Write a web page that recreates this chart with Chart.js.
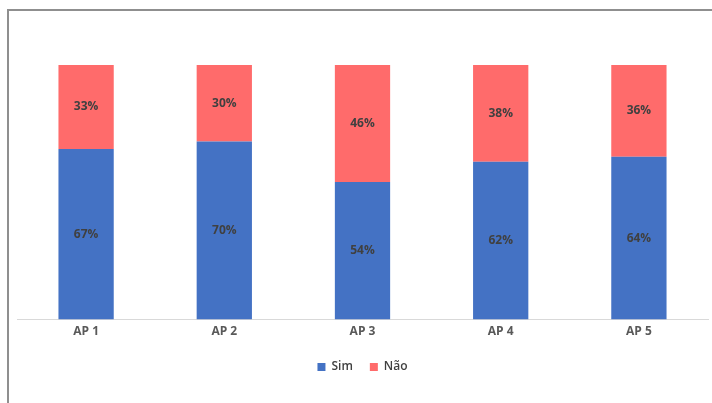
<!DOCTYPE html>
<html>
<head>
<meta charset="utf-8">
<script src="https://cdn.jsdelivr.net/npm/chart.js@4"></script>
<style>
  html, body { margin: 0; padding: 0; background: #fff; }
  #wrap { position: relative; width: 712px; height: 403px; overflow: hidden; }
  #frame { position: absolute; left: 7px; top: 9px; width: 800px; height: 500px;
           border-top: 2px solid #8f8f8f; border-left: 2px solid #8f8f8f; box-sizing: border-box; }
  #chart { position: absolute; left: 0; top: 0; }
</style>
</head>
<body>
<div id="wrap">
  <div id="frame"></div>
  <canvas id="chart" width="712" height="403"></canvas>
</div>
<script>
const categories = ["AP 1", "AP 2", "AP 3", "AP 4", "AP 5"];
const simValues = [67, 70, 54, 62, 64];
const naoValues = [33, 30, 46, 38, 36];

// labels in het midden van elk segment
const segmentLabels = {
  id: "segmentLabels",
  afterDatasetsDraw(chart) {
    const ctx = chart.ctx;
    ctx.save();
    ctx.font = "bold 12px 'Open Sans'";
    ctx.fillStyle = "#404040";
    ctx.textAlign = "center";
    ctx.textBaseline = "middle";
    chart.data.datasets.forEach((ds, i) => {
      chart.getDatasetMeta(i).data.forEach((bar, j) => {
        const p = bar.getProps(["x", "y", "base"], true);
        ctx.fillText(ds.data[j] + "%", p.x, (p.y + p.base) / 2);
      });
    });
    ctx.restore();
  },
};

new Chart(document.getElementById("chart").getContext("2d"), {
  type: "bar",
  data: {
    labels: categories,
    datasets: [
      { label: "Sim", data: simValues, backgroundColor: "#4472c4" },
      { label: "Não", data: naoValues, backgroundColor: "#ff6b6b" },
    ],
  },
  options: {
    responsive: false,
    animation: false,
    layout: { padding: { top: 65, left: 17, right: 4, bottom: 20 } },
    datasets: { bar: { barPercentage: 0.4, categoryPercentage: 1 } },
    plugins: {
      legend: {
        position: "bottom",
        labels: {
          boxWidth: 8,
          boxHeight: 8,
          padding: 17,
          color: "#404040",
          font: { family: "'Open Sans'", size: 12, weight: "600" },
        },
      },
      tooltip: { enabled: false },
    },
    scales: {
      x: {
        stacked: true,
        grid: { display: false, drawTicks: false },
        border: { color: "#d9d9d9" },
        ticks: { color: "#595959", font: { family: "'Open Sans'", size: 12, weight: "bold" }, padding: 5 },
      },
      y: { stacked: true, display: false, min: 0, max: 100 },
    },
  },
  plugins: [segmentLabels],
});
</script>
</body>
</html>
